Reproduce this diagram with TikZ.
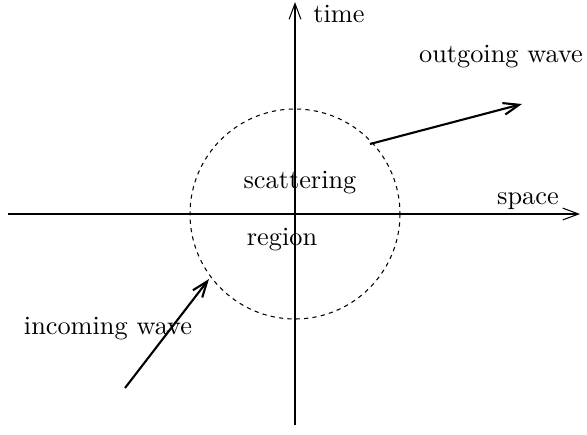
\documentclass[tikz,border=0pt]{standalone}
\usetikzlibrary{arrows.meta,positioning}

\begin{document}
\begin{tikzpicture}[x=0.38pt,y=-0.38pt,every node/.style={font=\normalsize},
  axis/.style={line width=.4pt,-{Straight Barb[length=6pt,width=4.5pt]}},
  wave/.style={line width=.8pt,-{Straight Barb[length=6pt,width=4.5pt]}},
  region/.style={line width=.4pt,dash pattern=on 1.6pt off 1.6pt}]
\useasboundingbox (0,0) rectangle (587,434);
\coordinate (o) at (295,214);
\coordinate (x0) at (8,214);
\coordinate (x1) at (580,214);
\coordinate (t0) at (295,425);
\coordinate (t1) at (295,2);
\coordinate (in0) at (125,388);
\coordinate (in1) at (209,279);
\coordinate (out0) at (370,144);
\coordinate (out1) at (522,104);
\draw[axis] (x0)--(x1);
\draw[axis] (t0)--(t1);
\draw[region] (o) circle (105);
\draw[wave] (in0)--(in1);
\draw[wave] (out0)--(out1);
\node[anchor=west] (time) at (304,14) {time};
\node (space) at (528,201) {space};
\node (scat) at (300,183) {scattering};
\node (reg) at (282,240) {region};
\node (inlabel) at (108,329) {incoming wave};
\node (outlabel) at (501,57) {outgoing wave};
\end{tikzpicture}
\end{document}
